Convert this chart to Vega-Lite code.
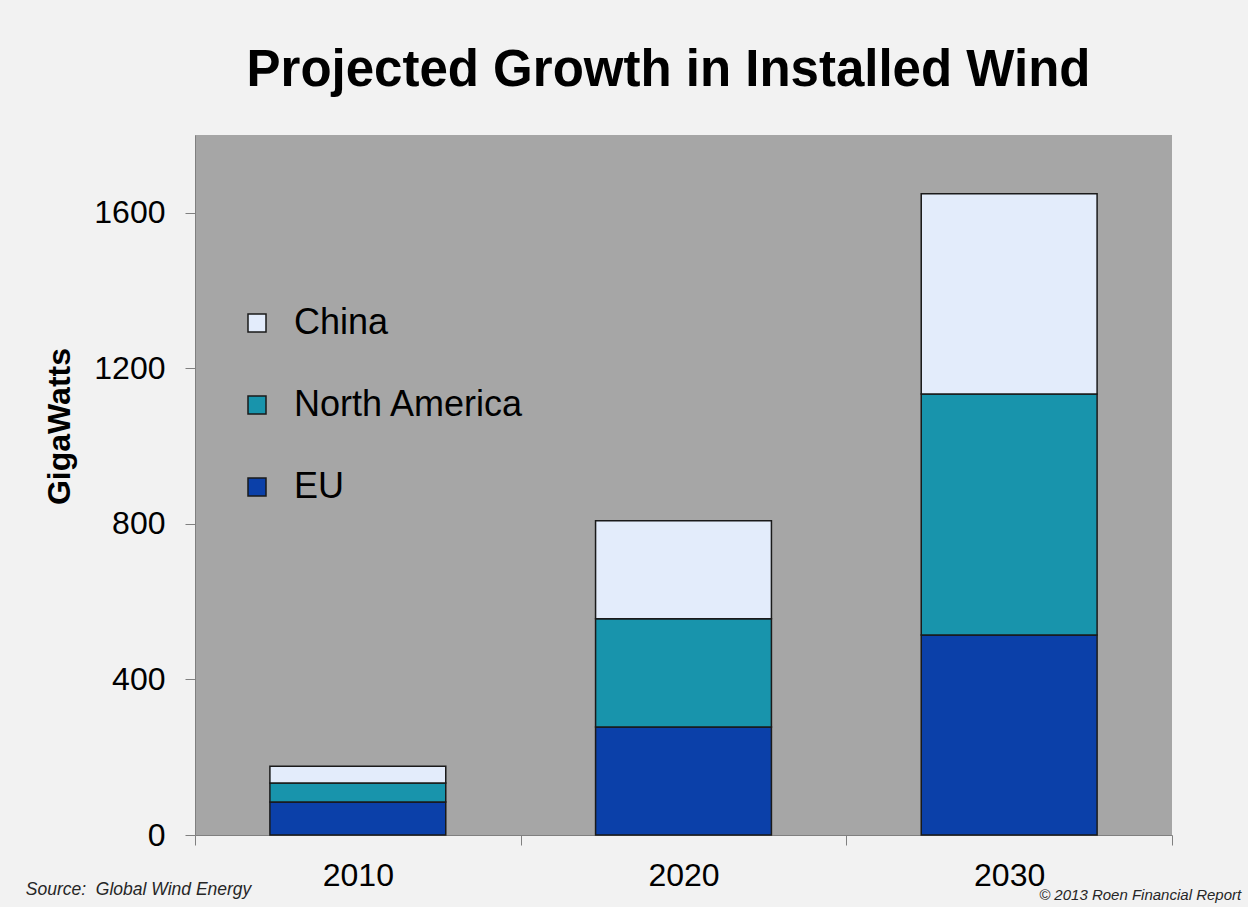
{
  "$schema": "https://vega.github.io/schema/vega-lite/v6.json",
  "width": 977,
  "height": 700,
  "autosize": {"type": "none"},
  "padding": {"left": 195, "top": 135, "right": 76, "bottom": 72},
  "background": "#f2f2f2",
  "title": {
    "text": "Projected Growth in Installed Wind",
    "font": "Liberation Sans",
    "fontSize": 51,
    "fontWeight": "bold",
    "color": "#000000",
    "anchor": "middle",
    "dx": -15,
    "offset": 38
  },
  "config": {
    "view": {"fill": "#a6a6a6", "stroke": null},
    "font": "Liberation Sans"
  },
  "datasets": {
    "wind": [
      {"year": "2010", "region": "EU", "gw": 85},
      {"year": "2010", "region": "North America", "gw": 49},
      {"year": "2010", "region": "China", "gw": 43},
      {"year": "2020", "region": "EU", "gw": 278},
      {"year": "2020", "region": "North America", "gw": 278},
      {"year": "2020", "region": "China", "gw": 252},
      {"year": "2030", "region": "EU", "gw": 514},
      {"year": "2030", "region": "North America", "gw": 620},
      {"year": "2030", "region": "China", "gw": 515}
    ],
    "source": [
      {"year": "2010", "note": "Source:\u00a0 Global Wind Energy"}
    ],
    "copyright": [
      {"year": "2030", "note": "© 2013 Roen Financial Report"}
    ]
  },
  "layer": [
    {
      "data": {"name": "wind"},
      "transform": [
        {"calculate": "indexof(['EU','North America','China'], datum.region)", "as": "stack_rank"}
      ],
      "mark": {"type": "bar", "stroke": "#1a1a1a", "strokeWidth": 1.5, "width": {"band": 0.54}},
      "encoding": {
        "x": {
          "field": "year",
          "type": "nominal",
          "scale": {"paddingInner": 0, "paddingOuter": 0},
          "axis": {
            "title": null,
            "labelAngle": 0,
            "labelFontSize": 32,
            "labelColor": "#000000",
            "tickBand": "extent",
            "tickSize": 10,
            "tickColor": "#808080",
            "domainColor": "#808080",
            "labelPadding": 15,
            "grid": false
          }
        },
        "y": {
          "field": "gw",
          "type": "quantitative",
          "stack": "zero",
          "scale": {"domain": [0, 1800], "nice": false},
          "axis": {
            "title": "GigaWatts",
            "titleFontSize": 32,
            "titleFontWeight": "bold",
            "titleColor": "#000000",
            "titlePadding": 17,
            "titleY": 291,
            "values": [0, 400, 800, 1200, 1600],
            "format": "d",
            "labelFontSize": 32,
            "labelColor": "#000000",
            "tickSize": 10,
            "labelPadding": 20,
            "tickColor": "#808080",
            "domainColor": "#808080",
            "grid": false
          }
        },
        "color": {
          "field": "region",
          "type": "nominal",
          "scale": {
            "domain": ["China", "North America", "EU"],
            "range": ["#e3ecfb", "#1894ac", "#0b40a9"]
          },
          "legend": {
            "orient": "none",
            "legendX": 44,
            "legendY": 170,
            "title": null,
            "symbolType": "square",
            "symbolSize": 324,
            "symbolStrokeColor": "#1a1a1a",
            "symbolStrokeWidth": 1.5,
            "symbolOpacity": 1,
            "labelFontSize": 36,
            "labelColor": "#000000",
            "labelOffset": 19,
            "labelLimit": 500,
            "rowPadding": 46
          }
        },
        "order": {"field": "stack_rank", "type": "quantitative"}
      }
    },
    {
      "data": {"name": "source"},
      "mark": {"type": "text", "align": "left", "baseline": "alphabetic", "dx": -332, "dy": 60, "fontSize": 17.5, "fontStyle": "italic", "color": "#262626"},
      "encoding": {
        "x": {"field": "year", "type": "nominal"},
        "y": {"datum": 0, "type": "quantitative"},
        "text": {"field": "note"}
      }
    },
    {
      "data": {"name": "copyright"},
      "mark": {"type": "text", "align": "right", "baseline": "alphabetic", "dx": 232, "dy": 65, "fontSize": 15, "fontStyle": "italic", "color": "#262626"},
      "encoding": {
        "x": {"field": "year", "type": "nominal"},
        "y": {"datum": 0, "type": "quantitative"},
        "text": {"field": "note"}
      }
    }
  ]
}
